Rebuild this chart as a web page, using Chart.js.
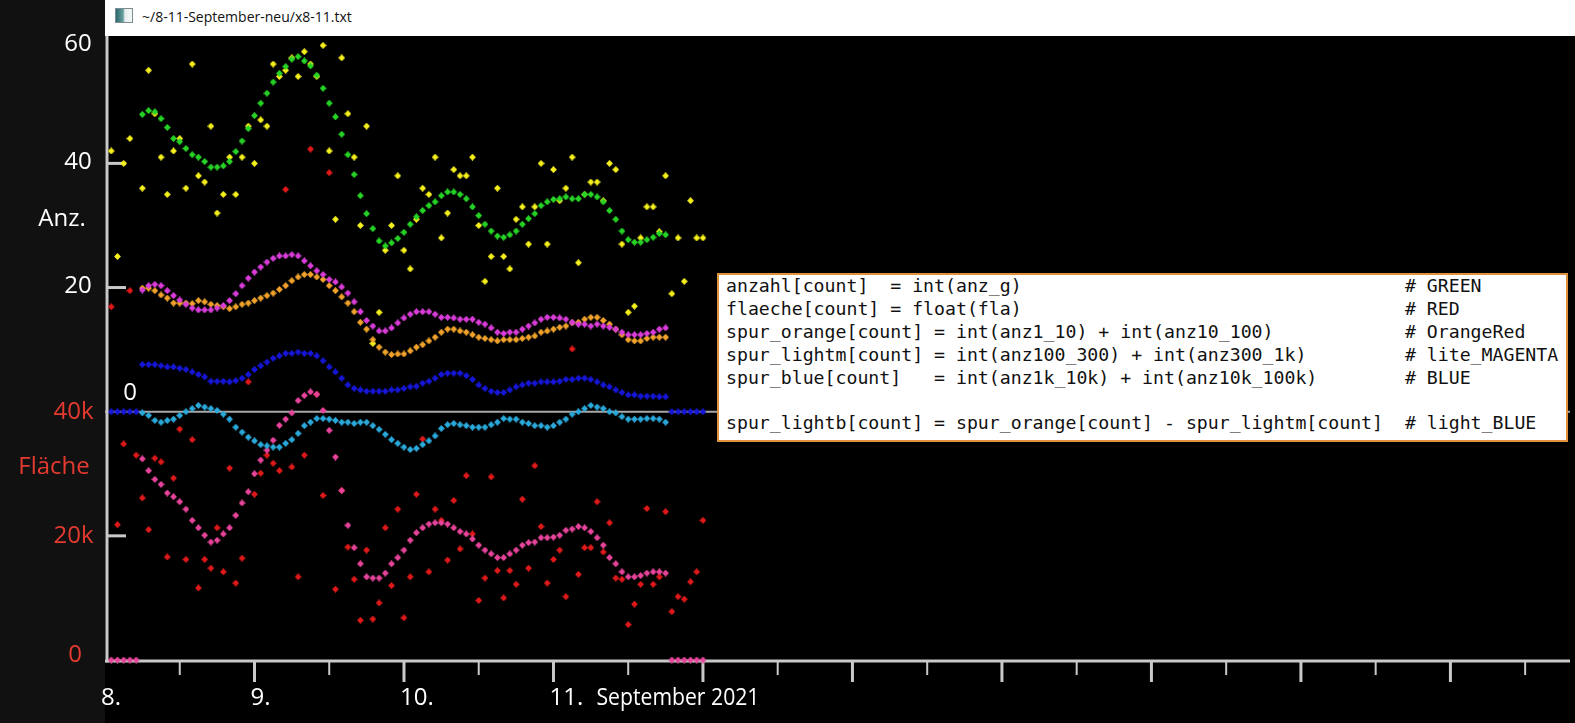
<!DOCTYPE html>
<html>
<head>
<meta charset="utf-8">
<script src="https://cdn.jsdelivr.net/npm/chart.js@4.4.0/dist/chart.umd.min.js"></script>
<style>
html,body{margin:0;padding:0;background:#000;}
body{width:1575px;height:723px;position:relative;overflow:hidden;font-family:"Open Sans",sans-serif;}
#side{position:absolute;left:0;top:0;width:105px;height:723px;background:#111;}
#titlebar{position:absolute;left:105px;top:0;width:1470px;height:36px;background:#fff;}
#icon{position:absolute;left:10px;top:8px;width:16px;height:13px;border:1px solid #7d8c90;background:linear-gradient(90deg,#2c6a6e 0%,#6a9fa0 45%,#e6eded 55%,#f5f7f7 100%);}
#ttext{position:absolute;left:37px;top:0;line-height:34px;font-size:14px;color:#111;font-family:"Open Sans",sans-serif;white-space:nowrap;}
#chart{position:absolute;left:0;top:0;}
#legend{position:absolute;left:717px;top:273px;width:851px;height:169px;box-sizing:border-box;background:#fff;border:2px solid #e0913c;padding:0 0 0 7px;}
#legend pre{margin:0;font-family:"DejaVu Sans Mono",monospace;font-size:18.2px;line-height:22.9px;color:#111;}
</style>
</head>
<body>
<div id="side"></div>
<div id="titlebar"><div id="icon"></div><div id="ttext">~/8-11-September-neu/x8-11.txt</div></div>
<canvas id="chart" width="1575" height="723"></canvas>
<div id="legend"><pre id="legendText"></pre></div>
<script>
// ---------- data (hourly samples, hour k = 1 .. 96 after 8 September 2021 00:00) ----------
const sampleHours = Array.from({length: 96}, (_, i) => i + 1);

// raw counts (yellow)
const anzahlRaw = [42,25,40,44,null,36,55,48,41,35, 42,44,36,56,38,37,46,32,35,41,
  35,41,46,40,47,46,56,54,55,57, 54,58,56,54,59,42,31,57,48,41,
  30,46,11,16,26,30,38,26,23,31, 36,35,41,28,32,39,38,38,41,30,
  21,25,36,25,23,31,33,27,33,40, 27,39,34,36,41,24,35,37,37,34,
  40,39,27,16,17,28,33,33,29,38, 19,28,21,34,28,28];

// smoothed counts (green)
const anzahl = [null,null,null,null,null,
  47.9,48.5,48.3,47.2,45.8, 44.0,43.5,42.4,41.4,41.0, 40.3,39.4,39.4,39.6,40.3,
  41.9,43.6,45.6,47.7,49.7, 51.3,53.1,54.5,55.6,56.8, 57.2,56.5,55.7,54.2,52.1,
  49.7,47.5,44.7,41.4,38.2, 34.8,31.9,29.5,27.5,26.7, 27.2,27.9,28.9,30.2,31.4,
  32.4,33.2,33.8,34.8,35.4, 35.4,35.0,34.3,33.0,31.6, 30.2,29.1,28.3,28.1,28.5,
  29.1,30.2,31.1,31.9,33.2, 33.8,34.2,34.3,34.6,34.3, 34.3,35.0,35.0,34.6,33.8,
  32.4,31.0,29.1,27.7,27.3, 27.3,27.7,28.1,28.7,28.5,
  null,null,null,null,null,null];

// raw area in thousands (red)
const flaecheRaw = [56.9,21.8,34.8,59.5,33.0,26.1,21.0,32.5,31.9,16.6,
  29.3,37.2,16.2,35.5,11.6,16.2,14.8,21.3,14.2,30.9,
  12.4,16.4,44.8,26.7,30.1,33.0,31.7,30.5,75.8,31.1,
  13.4,33.0,82.3,42.8,26.5,78.5,11.4,27.3,18.2,13.0,
  6.4,17.7,6.6,9.2,21.3,12.0,24.3,6.8,13.4,26.7,
  35.6,14.2,24.3,22.5,16.1,25.7,17.9,29.7,20.3,9.6,
  13.2,29.5,14.4,10.0,14.4,12.2,25.9,14.8,31.3,21.5,
  12.4,16.2,17.7,10.2,50.1,13.8,18.1,18.1,25.5,17.4,
  22.1,13.2,13.0,5.7,9.0,12.2,24.4,12.2,13.4,23.9,
  7.8,10.2,9.8,12.6,14.2,22.5];

// smoothed area in thousands (pink)
const flaeche = [0,0,0,0,0,
  32.4,30.5,29.1,28.3,26.9, 26.3,25.5,24.3,22.5,21.3, 20.1,19.0,19.3,20.3,21.3,
  23.3,25.3,27.1,30.0,32.2, 33.8,35.4,37.8,38.8,39.8, 41.8,42.6,43.2,42.8,40.2,
  37.0,32.7,27.3,21.7,18.1, 15.5,13.4,13.2,13.2,14.0, 15.5,16.5,17.7,19.3,20.5,
  21.3,21.9,22.1,22.1,21.9, 21.3,20.7,20.3,19.5,18.5, 17.7,17.1,16.5,16.5,17.1,
  17.7,18.5,18.9,19.0,19.7, 19.7,19.8,20.1,20.9,21.1, 21.5,21.3,20.7,19.7,18.5,
  16.5,15.5,14.2,13.4,13.4, 13.6,14.0,14.2,14.2,14.0,
  0,0,0,0,0,0];

// spur_orange
const spurOrange = [null,null,null,null,null,
  19.9,19.9,19.5,18.8,18.3, 17.5,17.5,17.5,17.4,17.9, 17.7,17.3,17.1,16.9,16.6,
  16.9,17.3,17.5,17.9,18.3, 18.7,19.1,19.7,20.3,21.1, 21.7,22.1,22.1,21.7,21.3,
  20.3,19.5,18.5,17.5,16.1, 14.4,13.3,11.6,10.4,9.6, 9.2,9.3,9.3,9.8,10.4,
  10.8,11.4,12.0,12.8,13.3, 13.3,13.0,12.8,12.4,12.0, 11.8,11.6,11.4,11.6,11.6,
  11.6,11.8,12.0,12.2,12.8, 13.0,13.3,13.6,13.8,14.3, 14.4,14.9,15.2,15.2,14.7,
  14.1,13.3,12.4,11.6,11.4, 11.4,11.8,12.0,12.0,12.0,
  null,null,null,null,null,null];

// spur_lightm
const spurLightm = [null,null,null,null,null,
  19.6,20.3,20.5,20.3,19.5, 18.7,18.0,17.3,16.7,16.4, 16.4,16.4,16.7,17.1,17.9,
  19.0,20.3,21.5,22.5,23.3, 24.1,24.7,25.1,25.1,25.3, 25.1,24.3,23.5,22.7,22.1,
  21.3,20.9,20.1,19.1,17.7, 16.1,14.7,13.8,13.0,13.0, 13.5,14.3,15.1,15.7,16.1,
  16.1,16.1,15.7,15.2,15.2, 15.1,14.9,14.9,14.9,14.4, 14.1,13.5,12.8,12.6,12.8,
  12.8,13.3,13.8,14.3,14.9, 15.2,15.2,15.1,14.9,14.4, 14.1,14.1,13.8,14.1,13.8,
  13.6,13.3,12.8,12.4,12.4, 12.4,12.6,12.8,13.3,13.5,
  null,null,null,null,null,null];

// spur_blue
const spurBlue = [0,0,0,0,0,
  7.6,7.6,7.6,7.4,7.2, 7.2,7.0,6.8,6.4,6.0, 5.6,4.9,4.9,4.9,4.8,
  5.0,5.4,6.0,6.8,7.4, 8.0,8.6,9.0,9.4,9.4, 9.6,9.4,9.4,9.0,8.2,
  7.2,6.4,5.4,4.3,3.75, 3.5,3.3,3.3,3.3,3.3, 3.5,3.5,3.75,4.0,4.1,
  4.6,4.9,5.4,6.0,6.2, 6.2,6.2,5.8,5.2,4.3, 3.75,3.3,3.1,3.1,3.5,
  4.0,4.3,4.6,4.6,4.8, 4.8,4.8,4.9,5.2,5.2, 5.4,5.4,5.2,4.8,4.3,
  4.0,3.5,3.1,2.7,2.7, 2.5,2.5,2.5,2.4,2.4,
  0,0,0,0,0,0];

// spur_lightb
const spurLightb = [null,null,null,null,null,
  -0.2,-0.6,-1.4,-1.7,-1.4, -1.2,-0.6,0,0.5,1.0, 0.75,0.5,0.2,-0.4,-1.2,
  -2.5,-3.3,-4.1,-4.7,-5.3, -5.5,-5.7,-5.7,-5.1,-4.5, -3.5,-2.25,-1.7,-1.1,-1.1,
  -1.2,-1.4,-1.7,-1.7,-1.9, -1.7,-1.7,-2.25,-2.85,-3.65, -4.5,-5.1,-5.7,-6.1,-5.9,
  -5.3,-4.7,-3.9,-2.7,-2.1, -1.9,-2.1,-2.25,-2.5,-2.5, -2.5,-2.1,-1.7,-1.1,-1.2,
  -1.2,-1.7,-1.9,-2.25,-2.25, -2.5,-2.25,-1.7,-1.2,-0.4, 0,0.5,1.0,0.75,0.5,
  0,-0.2,-0.8,-1.2,-1.2, -1.2,-1.1,-1.1,-1.2,-1.7,
  null,null,null,null,null,null];

// axis labels
const dayLabels = ['8.', '9.', '10.', '11.'];
const monthLabel = 'September 2021';
const anzTicks = [60, 40, 20];
const flaecheTicks = [40, 20, 0];

// legend lines: [code, comment]
const legendLines = [
  ['anzahl[count]  = int(anz_g)', '# GREEN'],
  ['flaeche[count] = float(fla)', '# RED'],
  ['spur_orange[count] = int(anz1_10) + int(anz10_100)', '# OrangeRed'],
  ['spur_lightm[count] = int(anz100_300) + int(anz300_1k)', '# lite_MAGENTA'],
  ['spur_blue[count]   = int(anz1k_10k) + int(anz10k_100k)', '# BLUE'],
  ['', ''],
  ['spur_lightb[count] = spur_orange[count] - spur_lightm[count]', '# light_BLUE']
];
document.getElementById('legendText').textContent =
  legendLines.map(([c, m]) => m ? c.padEnd(62) + m : c).join('\n');

// ---------- layout / style constants ----------
const HOURS_SHOWN = 235.2;
const DAYS_TICKED = 10;

function diamond(color){
  const c = document.createElement('canvas');
  c.width = 7; c.height = 7;
  const g = c.getContext('2d');
  g.fillStyle = color;
  g.beginPath();
  g.moveTo(3.5, 0.1); g.lineTo(6.9, 3.5); g.lineTo(3.5, 6.9); g.lineTo(0.1, 3.5);
  g.closePath(); g.fill();
  return c;
}

function series(label, values, color, axis, order){
  return {
    label,
    data: values.map((v, i) => ({x: sampleHours[i], y: v})),
    yAxisID: axis,
    order,
    pointStyle: diamond(color),
    pointRadius: 3.5,
    showLine: false,
    clip: false,
    backgroundColor: color,
    borderColor: color
  };
}

const RED_TXT = '#e53a30';
const LABEL_FONT = '24px "Open Sans", sans-serif';

const deco = {
  id: 'deco',
  beforeDatasetsDraw(chart){
    const {ctx, chartArea: a, scales} = chart;
    const x = scales.x, yF = scales.yF, yA = scales.yA;
    const ln = (x1, y1, x2, y2) => { ctx.beginPath(); ctx.moveTo(x1, y1); ctx.lineTo(x2, y2); ctx.stroke(); };
    ctx.save();
    ctx.strokeStyle = '#a8a8a8'; ctx.lineWidth = 2;
    const z = yA.getPixelForValue(0);
    ln(a.left, z, a.right, z);
    ctx.strokeStyle = '#c9c9c9'; ctx.lineWidth = 3;
    const x0 = x.getPixelForValue(0) + 2;
    const yb = yF.getPixelForValue(0) + 1;
    ln(x0, a.top, x0, yb + 1.5);
    ln(105, yb, a.right, yb);
    [20, 40].forEach(v => { const p = yA.getPixelForValue(v); ln(x0, p, x0 + 19, p); });
    [20].forEach(v => { const p = yF.getPixelForValue(v); ln(x0, p, x0 + 19, p); });
    for (let d = 1; d < DAYS_TICKED; d++) {
      const p = x.getPixelForValue(d * 24);
      ctx.lineWidth = 3; ln(p, yb, p, yb + 21);
    }
    for (let d = 0; d < DAYS_TICKED; d++) {
      const m = x.getPixelForValue(d * 24 + 12);
      if (m < a.right) { ctx.lineWidth = 2; ln(m, yb, m, yb + 14); }
    }
    ctx.restore();
  },
  afterDraw(chart){
    const {ctx, chartArea: a, scales} = chart;
    const x = scales.x, yF = scales.yF, yA = scales.yA;
    const clampY = p => Math.min(Math.max(p, a.top + 9), a.bottom - 5);
    ctx.save();
    ctx.font = LABEL_FONT;
    ctx.textBaseline = 'middle';
    ctx.textAlign = 'center';
    ctx.fillStyle = '#ffffff';
    anzTicks.forEach(v => ctx.fillText(String(v), 78, clampY(yA.getPixelForValue(v)) - 1));
    ctx.fillText('Anz.', 62, yA.getPixelForValue(31));
    ctx.fillText('0', 130, yA.getPixelForValue(0) - 19);
    ctx.fillStyle = RED_TXT;
    flaecheTicks.forEach(v => ctx.fillText(v === 0 ? '0' : v + 'k', v === 0 ? 75 : 73.5, clampY(yF.getPixelForValue(v))));
    ctx.fillText('Fläche', 54, yF.getPixelForValue(31));
    ctx.fillStyle = '#ffffff';
    ctx.textAlign = 'left';
    const ly = yF.getPixelForValue(0) + 38;
    dayLabels.forEach((t, d) => ctx.fillText(t, x.getPixelForValue(d * 24) - 4, ly));
    ctx.fillText(monthLabel, x.getPixelForValue(3 * 24) + 43, ly, 163);
    ctx.restore();
  }
};

new Chart(document.getElementById('chart'), {
  type: 'scatter',
  data: {
    datasets: [
      series('spur_lightb', spurLightb, '#2aa9db', 'yA', 1),
      series('spur_blue', spurBlue, '#1616d8', 'yA', 2),
      series('spur_lightm', spurLightm, '#d93cd9', 'yA', 3),
      series('spur_orange', spurOrange, '#f0a22a', 'yA', 4),
      series('flaeche', flaeche, '#e8449b', 'yF', 5),
      series('anzahl', anzahl, '#26d426', 'yA', 6),
      series('flaeche raw', flaecheRaw, '#e0191a', 'yF', 7),
      series('anzahl raw', anzahlRaw, '#f6f01c', 'yA', 8)
    ]
  },
  options: {
    responsive: false,
    animation: false,
    devicePixelRatio: 1,
    layout: {padding: {left: 105, right: 0, top: 36, bottom: 63}},
    plugins: {legend: {display: false}, tooltip: {enabled: false}},
    scales: {
      x: {type: 'linear', min: 0, max: HOURS_SHOWN, display: false},
      yF: {type: 'linear', axis: 'y', position: 'left', min: 0, max: 100.52, display: false},
      yA: {type: 'linear', axis: 'y', position: 'left', min: -40, max: 60.52, display: false}
    }
  },
  plugins: [deco]
});
</script>
</body>
</html>
